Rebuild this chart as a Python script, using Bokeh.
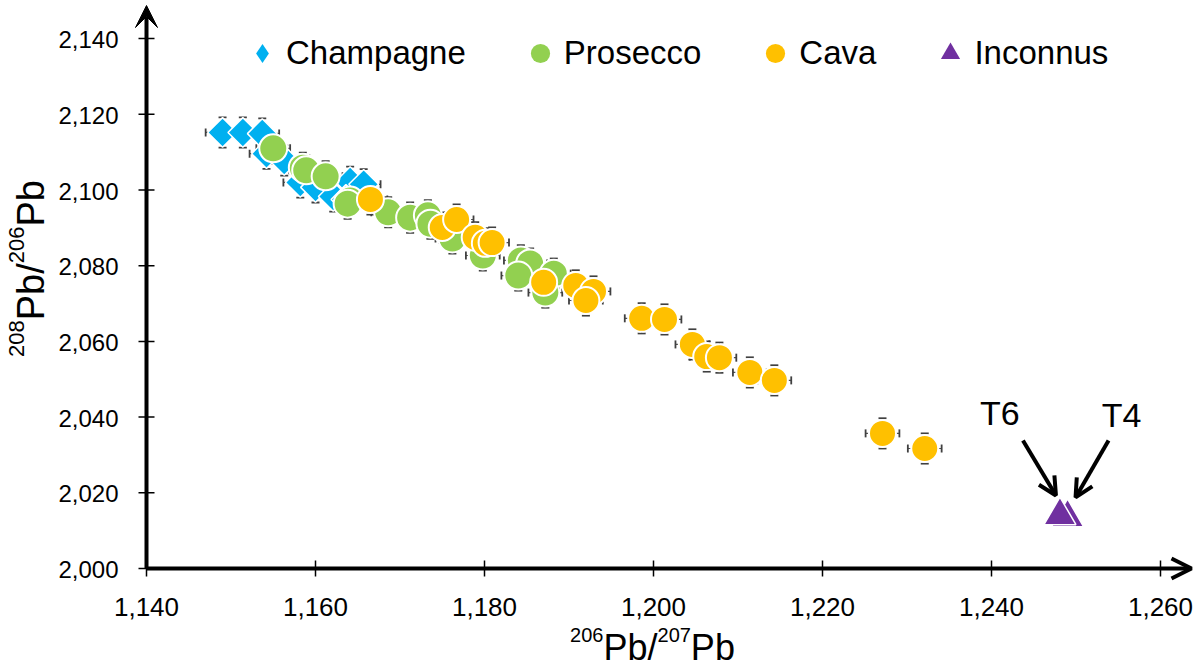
import math
from bokeh.plotting import figure
from bokeh.models import (Range1d, Whisker, TeeHead, ColumnDataSource, Arrow, VeeHead,
                          OpenHead, Label, Legend, LegendItem)
from bokeh.core.properties import value
from bokeh.embed import file_html
from bokeh.resources import INLINE

# ---------------- data ----------------
champagne_x = [1.1490, 1.1514, 1.1537, 1.1542, 1.1563, 1.1582, 1.1600, 1.1621, 1.1641, 1.1657, 1.1636]
champagne_y = [2.1152, 2.1152, 2.1149, 2.1096, 2.1078, 2.1020, 2.1007, 2.0983, 2.1022, 2.1015, 2.0975]

prosecco_x = [1.1550, 1.1585, 1.1589, 1.1612, 1.1641, 1.1638, 1.1686, 1.1712, 1.1733, 1.1736,
              1.1762, 1.1798, 1.1843, 1.1854, 1.1840, 1.1882, 1.1872]
prosecco_y = [2.1110, 2.1059, 2.1052, 2.1036, 2.0972, 2.0964, 2.0941, 2.0927, 2.0933, 2.0911,
              2.0872, 2.0827, 2.0814, 2.0806, 2.0774, 2.0779, 2.0729]

cava_x = [1.1665, 1.1750, 1.1767, 1.1789, 1.1801, 1.1809, 1.1870, 1.1908, 1.1929, 1.1920,
          1.1986, 1.2013, 1.2046, 1.2063, 1.2078, 1.2114, 1.2143, 1.2271, 1.2321]
cava_y = [2.0975, 2.0901, 2.0922, 2.0875, 2.0859, 2.0861, 2.0756, 2.0748, 2.0732, 2.0708,
          2.0661, 2.0658, 2.0592, 2.0560, 2.0557, 2.0518, 2.0497, 2.0357, 2.0317]

inconnus_names = ["T4", "T6"]
inconnus_x = [1.2490, 1.2481]
inconnus_y = [2.0135, 2.0140]

x_err = 0.0020
y_err = 0.0040

x_ticks = [1.14, 1.16, 1.18, 1.20, 1.22, 1.24, 1.26]
x_tick_labels = ["1,140", "1,160", "1,180", "1,200", "1,220", "1,240", "1,260"]
y_ticks = [2.000, 2.020, 2.040, 2.060, 2.080, 2.100, 2.120, 2.140]
y_tick_labels = ["2,000", "2,020", "2,040", "2,060", "2,080", "2,100", "2,120", "2,140"]

series_names = ["Champagne", "Prosecco", "Cava", "Inconnus"]
series_colors = ["#00B0F0", "#92D050", "#FFC000", "#7030A0"]

x_title_parts = [("206", True), ("Pb/", False), ("207", True), ("Pb", False)]
y_title_parts = [("208", True), ("Pb/", False), ("206", True), ("Pb", False)]

# ---------------- layout constants ----------------
FONT = "Liberation Sans"
W, H = 1198, 668
X0, Y0 = 1.140, 2.000          # axis origin values
OX, OY = 146, 568              # origin position in pixels
SX, SY = 8450.0, 3785.0        # pixels per data unit

p = figure(width=W, height=H,
           x_range=Range1d(X0 - OX / SX, X0 + (W - OX) / SX),
           y_range=Range1d(Y0 - (H - OY) / SY, Y0 + OY / SY),
           x_axis_location=None, y_axis_location=None,
           output_backend="svg", toolbar_location=None,
           min_border=0, min_border_left=0, min_border_right=0,
           min_border_top=0, min_border_bottom=0)
p.outline_line_color = None
p.grid.visible = False
p.background_fill_color = "white"
p.border_fill_color = "white"

# ---------------- axes (arrows, ticks, tick labels) ----------------
p.add_layout(Arrow(x_start=X0, y_start=Y0, x_end=X0, y_end=Y0 + (OY - 5) / SY,
                   line_width=4, line_color="black",
                   end=VeeHead(size=22, fill_color="black", line_color="black", line_width=1)))
p.add_layout(Arrow(x_start=X0, y_start=Y0, x_end=X0 + (1191 - OX) / SX, y_end=Y0,
                   line_width=4, line_color="black",
                   end=OpenHead(size=20, line_color="black", line_width=4)))

p.scatter(x=x_ticks, y=[Y0] * len(x_ticks), marker="dash", angle=math.pi / 2, size=16,
          line_color="black", line_width=1.5)
p.scatter(x=[X0] * len(y_ticks), y=y_ticks, marker="dash", size=16,
          line_color="black", line_width=1.5)

p.text(x=x_ticks, y=[Y0] * len(x_ticks), text=x_tick_labels, y_offset=38,
       text_font=value(FONT), text_font_size=value("26px"), text_color="black",
       text_align="center", text_baseline="alphabetic")
p.text(x=[X0] * len(y_ticks), y=y_ticks, text=y_tick_labels, x_offset=-28, y_offset=1,
       text_font=value(FONT), text_font_size=value("24px"), text_color="black",
       text_align="right", text_baseline="alphabetic")

# ---------------- error bars ----------------
def add_errors(xs, ys):
    src = ColumnDataSource(dict(
        x=xs, y=ys,
        xl=[v - x_err for v in xs], xu=[v + x_err for v in xs],
        yl=[v - y_err for v in ys], yu=[v + y_err for v in ys]))
    for dim, base, lo, up in (("height", "x", "yl", "yu"), ("width", "y", "xl", "xu")):
        p.add_layout(Whisker(source=src, base=base, lower=lo, upper=up, dimension=dim,
                             level="underlay", line_color="#505050", line_width=1.2,
                             upper_head=TeeHead(size=8, line_color="#404040", line_width=1.8),
                             lower_head=TeeHead(size=8, line_color="#404040", line_width=1.8)))

add_errors(champagne_x, champagne_y)
add_errors(prosecco_x, prosecco_y)
add_errors(cava_x, cava_y)

# ---------------- markers ----------------
p.scatter(champagne_x, champagne_y, marker="square", angle=math.pi / 4, size=21,
          fill_color=series_colors[0], line_color="white", line_width=1.5)
p.scatter(prosecco_x, prosecco_y, marker="circle", size=28,
          fill_color=series_colors[1], line_color="white", line_width=2)
p.scatter(cava_x, cava_y, marker="circle", size=27,
          fill_color=series_colors[2], line_color="white", line_width=2)
p.scatter(inconnus_x, inconnus_y, marker="triangle", size=32,
          fill_color=series_colors[3], line_color="white", line_width=1.5)

# ---------------- legend ----------------
leg_markers = ["diamond", "circle", "circle", "triangle"]
items = []
for name, col, mk in zip(series_names, series_colors, leg_markers):
    r = p.scatter(x=[float("nan")], y=[float("nan")], marker=mk, fill_color=col, line_color=None)
    items.append(LegendItem(label=name, renderers=[r]))
legend = Legend(items=items, orientation="horizontal", location=(238, H - 77),
                glyph_width=48, glyph_height=48, label_standoff=0, spacing=50,
                padding=0, margin=0, border_line_color=None, background_fill_alpha=0,
                label_text_font=FONT, label_text_font_size="33px", label_text_color="black")
p.add_layout(legend)

# ---------------- T6 / T4 annotations ----------------
ann = {"T6": dict(lab=(-60, 103), start=(-37, 75), end=(-4, 20)),
       "T4": dict(lab=(54, 102), start=(41, 77), end=(8, 20))}
for nm, xv, yv in zip(inconnus_names, inconnus_x, inconnus_y):
    a = ann[nm]
    p.add_layout(Label(x=xv, y=yv, x_offset=a["lab"][0], y_offset=a["lab"][1], text=nm,
                       text_font=FONT, text_font_size="34px", text_color="black",
                       text_align="center", text_baseline="alphabetic"))
    p.add_layout(Arrow(x_start=xv + a["start"][0] / SX, y_start=yv + a["start"][1] / SY,
                       x_end=xv + a["end"][0] / SX, y_end=yv + a["end"][1] / SY,
                       line_width=4, line_color="black",
                       end=OpenHead(size=18, line_color="black", line_width=4)))

# ---------------- axis titles with superscripts ----------------
AW = {'0': 0.556, '1': 0.556, '2': 0.556, '6': 0.556, '7': 0.556, '8': 0.556,
      'P': 0.667, 'b': 0.556, '/': 0.278}

def tw(s, size):
    return sum(AW[c] for c in s) * size

def parts_width(parts, big, sup):
    return sum(tw(t, sup if s else big) for t, s in parts)

# x title: centred at x=652
BIG, SUP, RAISE = 36, 20, 13
cx = 652 - parts_width(x_title_parts, BIG, SUP) / 2
for t, s in x_title_parts:
    size = SUP if s else BIG
    p.add_layout(Label(x=cx, y=(H - 647) + (RAISE if s else 0), x_units="screen", y_units="screen",
                       text=t, text_font=FONT, text_font_size=f"{size}px", text_color="black",
                       text_align="left", text_baseline="alphabetic"))
    cx += tw(t, size)

# y title (rotated): centred at y=268
BIG, SUP, RAISE = 38, 22, 14
cy = (H - 268) - parts_width(y_title_parts, BIG, SUP) / 2
for t, s in y_title_parts:
    size = SUP if s else BIG
    p.add_layout(Label(x=30 - (RAISE if s else 0), y=cy, x_units="screen", y_units="screen",
                       angle=math.pi / 2, text=t, text_font=FONT, text_font_size=f"{size}px",
                       text_color="black", text_align="left", text_baseline="alphabetic"))
    cy += tw(t, size)

open("out.html", "w").write(file_html(p, INLINE))
